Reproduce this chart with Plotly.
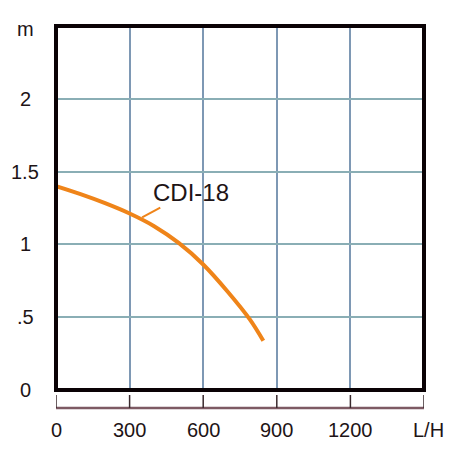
import plotly.graph_objects as go

# data
flow = [0, 100, 200, 300, 400, 500, 600, 700, 790, 845]
head = [1.400, 1.345, 1.283, 1.212, 1.125, 1.010, 0.862, 0.675, 0.485, 0.338]
series_name = "CDI-18"

x_ticks = [0, 300, 600, 900, 1200]
x_tick_labels = ["0", "300", "600", "900", "1200"]
x_unit = "L/H"
x_max = 1500

y_ticks = [0, 0.5, 1, 1.5, 2]
y_tick_labels = ["0", ".5", "1", "1.5", "2"]
y_unit = "m"
y_max = 2.5

FONT = "Liberation Sans, Arial, Helvetica, sans-serif"
TXT = "#1e1416"
ORANGE = "#ef8419"

fig = go.Figure()
fig.add_trace(go.Scatter(
    x=flow, y=head, mode="lines",
    line=dict(color=ORANGE, width=4, shape="spline", smoothing=1.0),
    hoverinfo="skip", showlegend=False,
))

shapes = []
# leader line from label to curve
shapes.append(dict(type="line", xref="x", yref="y", x0=425, y0=1.253, x1=351, y1=1.186,
                   line=dict(color=ORANGE, width=2)))
# frame
shapes.append(dict(type="rect", xref="paper", yref="paper", x0=0, y0=0, x1=1, y1=1,
                   line=dict(color="#0a0205", width=4), layer="above"))
# separate bottom axis line
axis_y = -0.0495
shapes.append(dict(type="line", xref="paper", yref="paper", x0=0, x1=1, y0=axis_y, y1=axis_y,
                   line=dict(color="#7d5a63", width=2.5)))
for v in x_ticks + [x_max]:
    shapes.append(dict(type="line", xref="x", yref="paper", x0=v, x1=v, y0=axis_y, y1=-0.0137,
                       line=dict(color="#3a2a2e", width=1.5)))

annotations = []
for v, t in zip(x_ticks, x_tick_labels):
    annotations.append(dict(x=v, y=-0.11, xref="x", yref="paper", text=t, showarrow=False,
                            xanchor="center", yanchor="middle",
                            font=dict(family=FONT, size=20, color=TXT)))
annotations.append(dict(x=x_max, y=-0.11, xref="x", yref="paper", text=x_unit, showarrow=False,
                        xanchor="center", yanchor="middle", xshift=4,
                        font=dict(family=FONT, size=20, color=TXT)))
for v, t in zip(y_ticks, y_tick_labels):
    annotations.append(dict(x=-0.0835, y=v, xref="paper", yref="y", text=t, showarrow=False,
                            xanchor="center", yanchor="middle",
                            font=dict(family=FONT, size=20, color=TXT)))
annotations.append(dict(x=-0.0835, y=y_max, xref="paper", yref="y", text=y_unit, showarrow=False,
                        xanchor="center", yanchor="middle", yshift=-3,
                        font=dict(family=FONT, size=20, color=TXT)))
annotations.append(dict(x=550, y=1.355, xref="x", yref="y", text=series_name, showarrow=False,
                        xanchor="center", yanchor="middle",
                        font=dict(family=FONT, size=24, color=TXT)))

# page body has an 8px default margin; compensate so the plot lands where the reference has it
fig.update_layout(
    width=472, height=462,
    margin=dict(l=48, r=56, t=18, b=80),
    paper_bgcolor="white", plot_bgcolor="white",
    xaxis=dict(range=[0, x_max], tickvals=x_ticks + [x_max], showticklabels=False,
               showgrid=True, gridcolor="#7e98b4", gridwidth=2, zeroline=False,
               showline=False, ticks="", fixedrange=True),
    yaxis=dict(range=[0, y_max], tickvals=y_ticks + [y_max], showticklabels=False,
               showgrid=True, gridcolor="#8aaeb5", gridwidth=2, zeroline=False,
               showline=False, ticks="", fixedrange=True),
    shapes=shapes,
    annotations=annotations,
    showlegend=False,
)

fig.write_html("out.html")
